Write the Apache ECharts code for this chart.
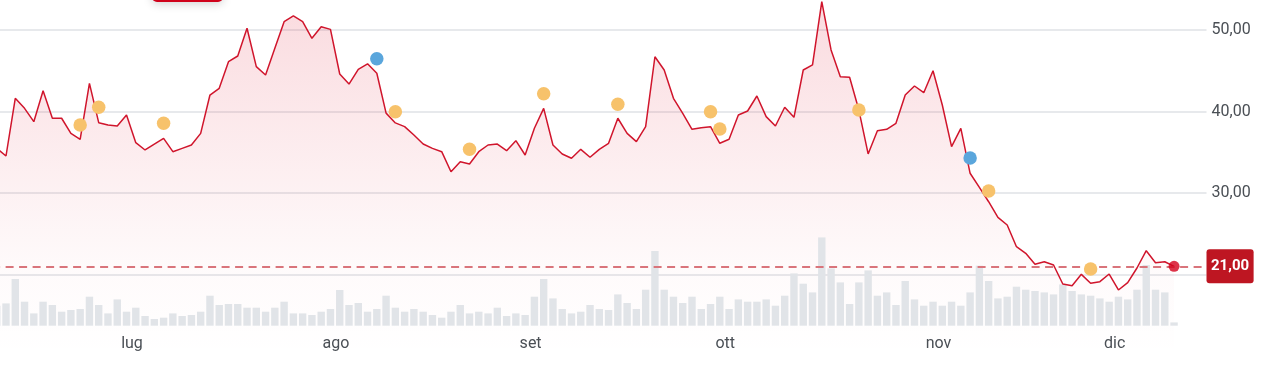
<!DOCTYPE html>
<html>
<head>
<meta charset="utf-8">
<script src="https://cdn.jsdelivr.net/npm/echarts@6.0.0/dist/echarts.min.js"></script>
<style>
  html, body { margin: 0; padding: 0; background: #ffffff; }
  #chart { width: 1280px; height: 370px; }
</style>
</head>
<body>
<div id="chart"></div>
<script>
// ---- Data ----
const monthNames = ['giu', 'lug', 'ago', 'set', 'ott', 'nov', 'dic'];
const sessionsPerMonth = [15, 22, 21, 21, 23, 19, 7];
const trailingEmptySlots = 3;

// closing prices, one per session
const prices = [
  35.5, 34.54, 41.62, 40.39, 38.75, 42.55, 39.17, 39.17, 37.32, 36.59,
  43.46, 38.63, 38.34, 38.22, 39.57, 36.17, 35.28, 36.01, 36.71, 35.07,
  35.48, 35.89, 37.32, 42.02, 42.85, 46.11, 46.81, 50.21, 45.5, 44.48,
  47.75, 51.02, 51.72, 51.02, 48.98, 50.4, 50.08, 44.6, 43.37, 45.18,
  45.85, 44.69, 39.8, 38.6, 38.14, 37.12, 36.01, 35.48, 35.07, 32.61,
  33.84, 33.56, 35.07, 35.89, 36.01, 35.19, 36.42, 34.66, 37.94, 40.39,
  35.89, 34.79, 34.26, 35.36, 34.38, 35.36, 36.1, 39.17, 37.32, 36.3,
  38.14, 46.72, 45.09, 41.62, 39.78, 37.82, 38.01, 38.14, 36.1, 36.59,
  39.57, 40.06, 41.9, 39.37, 38.22, 40.52, 39.29, 45.09, 45.71, 53.47,
  47.55, 44.27, 44.2, 40.18, 34.79, 37.64, 37.82, 38.55, 42.02, 43.13,
  42.31, 45.0, 40.8, 35.69, 37.94, 32.42, 30.7, 28.93, 27.0, 26.07,
  23.41, 22.6, 21.25, 21.57, 21.17, 18.83, 18.63, 20.02, 18.92, 19.12,
  20.06, 18.1, 19.0, 20.8, 22.92, 21.45, 21.57, 21.0
];

// traded volume per session (thousands)
const volumes = [
  200, 223, 467, 240, 123, 240, 207, 140, 157, 167,
  290, 207, 123, 263, 140, 180, 97, 67, 80, 123,
  97, 107, 140, 300, 207, 217, 217, 180, 180, 140,
  180, 240, 123, 123, 107, 140, 167, 357, 207, 227,
  140, 167, 300, 180, 140, 167, 140, 107, 80, 140,
  207, 123, 140, 123, 180, 97, 123, 107, 290, 467,
  273, 167, 123, 140, 207, 167, 157, 313, 227, 167,
  360, 747, 360, 290, 227, 290, 167, 217, 290, 167,
  263, 240, 240, 263, 200, 300, 523, 420, 333, 883,
  573, 433, 217, 433, 553, 300, 333, 207, 447, 263,
  200, 240, 200, 240, 200, 333, 600, 447, 273, 290,
  390, 360, 347, 333, 313, 413, 347, 313, 300, 273,
  240, 290, 263, 360, 607, 360, 333, 33
];

// events: [session index, price]
const orangeEvents = [
  [9, 38.34], [11, 40.52], [18, 38.55], [43, 39.98], [51, 35.36], [59, 42.18],
  [67, 40.88], [77, 39.98], [78, 37.85], [93, 40.18], [107, 30.25], [118, 20.67]
];
const blueEvents = [[41, 46.48], [105, 34.29]];

const lastPrice = 21.00;
const yTicks = [30, 40, 50];

// ---- Build categories ----
const categories = [];
const monthStart = new Set();
monthNames.forEach((m, mi) => {
  for (let k = 0; k < sessionsPerMonth[mi]; k++) {
    if (k === 0 && mi > 0) monthStart.add(categories.length);
    categories.push(m + '-' + (k + 1));
  }
});
for (let k = 0; k < trailingEmptySlots; k++) categories.push('');

const fmt = v => v.toFixed(2).replace('.', ',');
const lastIndex = prices.length - 1;

const gridLeft = -7.9;
const gridWidth = 1214.4;
const labelColor = '#4a4f55';
const fontFamily = 'Roboto, "Liberation Sans", Arial, sans-serif';

const chart = echarts.init(document.getElementById('chart'), null, { renderer: 'canvas' });
chart.setOption({
  animation: false,
  backgroundColor: '#ffffff',
  grid: [
    { left: gridLeft, width: gridWidth, top: -10.75, height: 366.75, containLabel: false, outerBoundsMode: 'none' },
    { left: gridLeft, width: gridWidth, top: 225.7, height: 100, containLabel: false, outerBoundsMode: 'none' }
  ],
  xAxis: [
    { type: 'category', gridIndex: 0, data: categories, boundaryGap: true, show: false },
    {
      type: 'category', gridIndex: 1, data: categories, boundaryGap: true,
      axisLine: { show: false }, axisTick: { show: false }, splitLine: { show: false },
      axisLabel: {
        interval: 0,
        margin: 10.5,
        color: labelColor,
        fontSize: 16,
        fontFamily: fontFamily,
        padding: [0, 7.6, 0, 0],
        formatter: (val, idx) => monthStart.has(idx) ? val.split('-')[0] : ''
      }
    }
  ],
  yAxis: [
    {
      type: 'value', gridIndex: 0, position: 'right', min: 10, max: 55, interval: 10,
      axisLine: { show: false }, axisTick: { show: false },
      splitLine: { show: true, showMinLine: false, showMaxLine: false, lineStyle: { color: '#e7e9ec', width: 2 } },
      axisLabel: {
        margin: 5, color: labelColor, fontSize: 16, fontFamily: fontFamily, align: 'left',
        showMinLabel: false, showMaxLabel: false,
        formatter: v => yTicks.includes(v) ? fmt(v) : ''
      }
    },
    { type: 'value', gridIndex: 1, min: 0, max: 1000, show: false }
  ],
  graphic: [
    {
      type: 'rect', z: 100,
      shape: { x: 152, y: -28, width: 71, height: 30, r: 5 },
      style: { fill: '#d0021b', shadowBlur: 10, shadowColor: 'rgba(0,0,0,0.18)', shadowOffsetY: 2 }
    }
  ],
  series: [
    {
      name: 'area', type: 'line', xAxisIndex: 0, yAxisIndex: 0, z: 1,
      data: prices, symbol: 'none', silent: true,
      lineStyle: { width: 0, opacity: 0 },
      areaStyle: {
        color: new echarts.graphic.LinearGradient(0, 0, 0, 1, [
          { offset: 0, color: 'rgba(226, 40, 64, 0.24)' },
          { offset: 0.75, color: 'rgba(226, 40, 64, 0.03)' },
          { offset: 1, color: 'rgba(226, 40, 64, 0)' }
        ])
      }
    },
    {
      name: 'volume', type: 'bar', xAxisIndex: 1, yAxisIndex: 1, z: 2,
      data: volumes, barWidth: 7.4, silent: true,
      itemStyle: { color: '#e1e4e8' }
    },
    {
      name: 'price', type: 'line', xAxisIndex: 0, yAxisIndex: 0, z: 3,
      data: prices, symbol: 'none',
      lineStyle: { color: '#d0152c', width: 1.5 },
      markLine: {
        silent: true, symbol: 'none', z: 4,
        lineStyle: { color: '#d9747b', width: 2, type: [8, 5.5] },
        label: {
          show: true, position: 'end', distance: 0,
          formatter: () => fmt(lastPrice),
          color: '#ffffff', fontSize: 15, fontWeight: 'bold', fontFamily: fontFamily,
          backgroundColor: '#be1622', borderRadius: 3, padding: [9.5, 4.5, 9.5, 4.5]
        },
        data: [{ yAxis: lastPrice }]
      }
    },
    {
      name: 'eventi', type: 'scatter', xAxisIndex: 0, yAxisIndex: 0, z: 5,
      data: orangeEvents, symbolSize: 13.5,
      itemStyle: { color: '#f7c26b', opacity: 1 }
    },
    {
      name: 'eventi2', type: 'scatter', xAxisIndex: 0, yAxisIndex: 0, z: 5,
      data: blueEvents, symbolSize: 13.5,
      itemStyle: { color: '#5aa6dc', opacity: 1 }
    },
    {
      name: 'ultimo', type: 'scatter', xAxisIndex: 0, yAxisIndex: 0, z: 6,
      data: [[lastIndex, lastPrice]], symbolSize: 11,
      itemStyle: { color: '#d3001b' }
    }
  ]
});
</script>
</body>
</html>
